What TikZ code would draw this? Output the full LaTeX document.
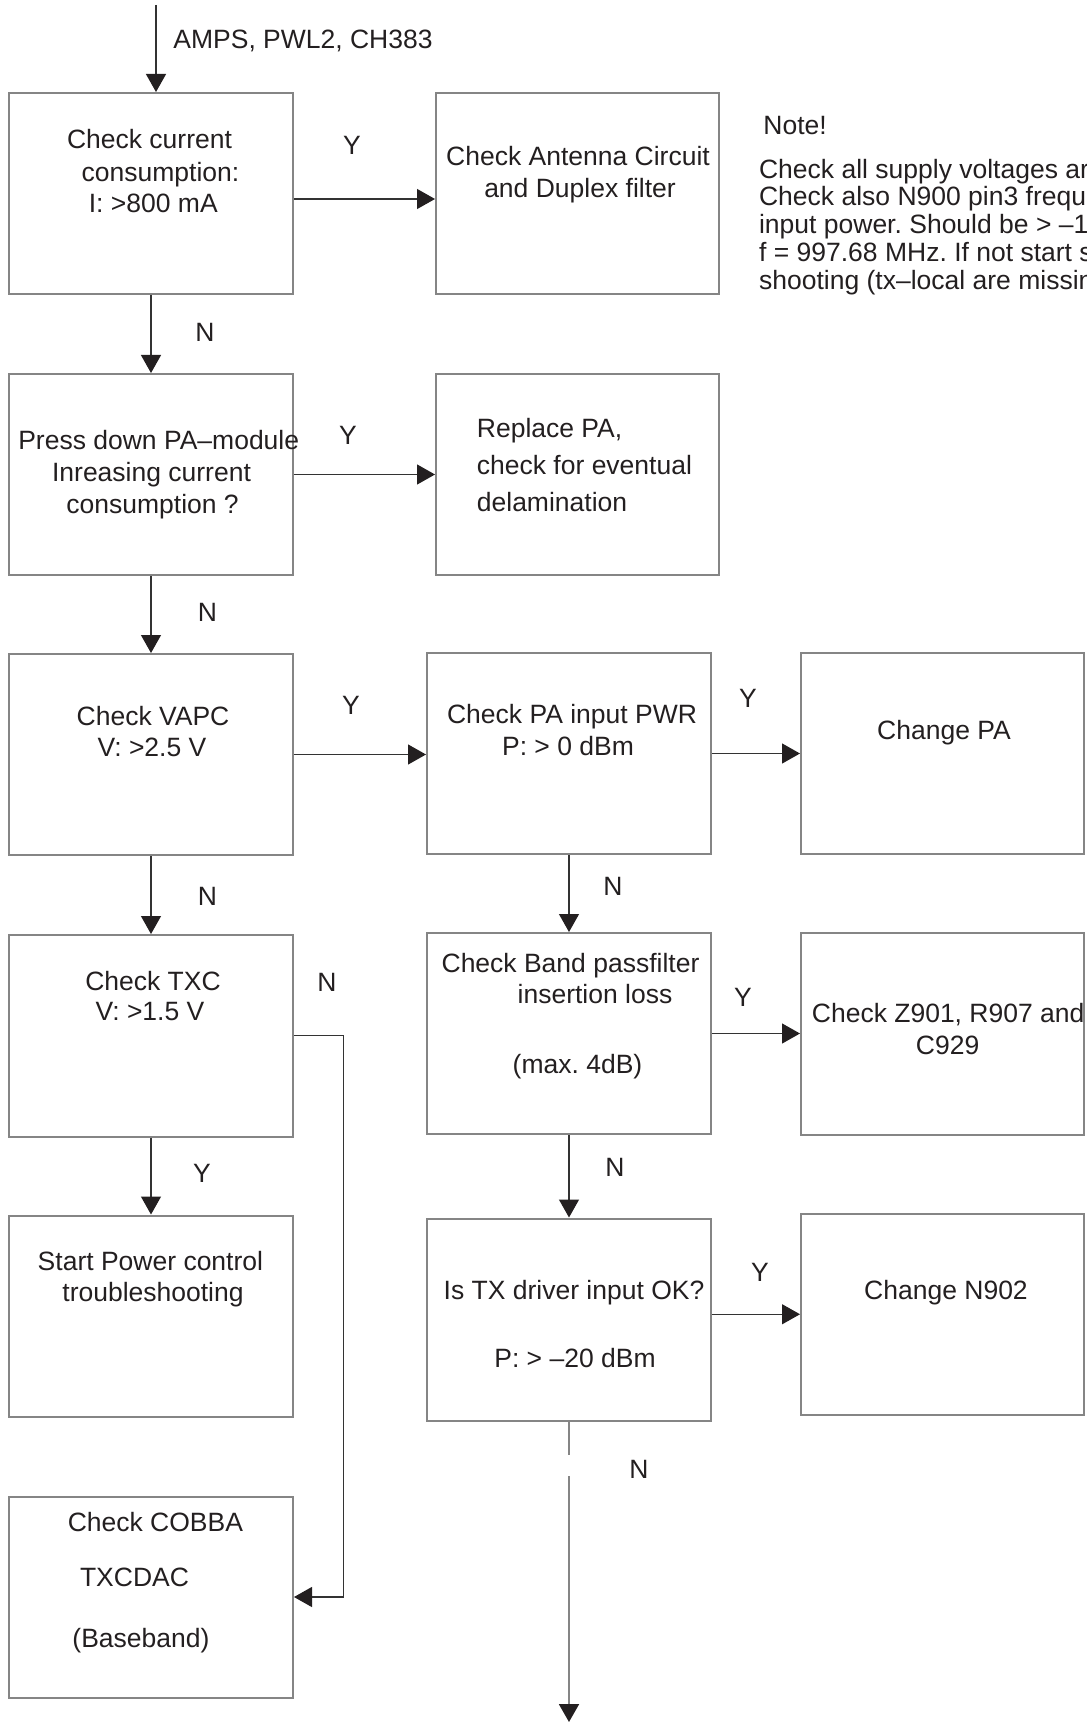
\documentclass[tikz,border=0pt]{standalone}
\usepackage{fontspec}
\setmainfont{Liberation Sans}
\usetikzlibrary{arrows.meta,fit}
\definecolor{ink}{HTML}{231F20}
\definecolor{frame}{HTML}{858585}
\definecolor{wire}{HTML}{333333}
\frenchspacing
\begin{document}
\begin{tikzpicture}[x=0.5pt,y=-0.5pt,
  box/.style={draw=frame,line width=1pt,inner sep=0pt},
  txt/.style={inner sep=0pt,anchor=base,text=ink,font=\fontsize{13.25}{16}\selectfont},
  txtl/.style={txt,anchor=base west},
  yn/.style={inner sep=0pt,text=ink,font=\fontsize{13.25}{16}\selectfont},
  wire/.style={draw=wire,line width=0.6pt},
  exitline/.style={draw=frame,line width=1pt},
  arr/.style={-{Triangle[length=9pt,width=10pt,fill=ink,color=ink]}}]
\useasboundingbox (0,0) rectangle (1086,1722);
\clip (0,0) rectangle (1086,1722);

% ---- boxes ----
\node[box,fit={(9,93) (293,294)}]        (b1)  {};
\node[box,fit={(436,93) (719,294)}]      (b2)  {};
\node[box,fit={(9,374) (293,575)}]       (b3)  {};
\node[box,fit={(436,374) (719,575)}]     (b4)  {};
\node[box,fit={(9,654) (293,855)}]       (b5)  {};
\node[box,fit={(427,653) (711,854)}]     (b6)  {};
\node[box,fit={(801,653) (1084,854)}]    (b7)  {};
\node[box,fit={(9,935) (293,1136.5)}]    (b8)  {};
\node[box,fit={(427,933) (711,1134)}]    (b9)  {};
\node[box,fit={(801,933) (1084,1135)}]   (b10) {};
\node[box,fit={(9,1215.5) (293,1416.5)}] (b11) {};
\node[box,fit={(427,1218.5) (711,1420.5)}] (b12) {};
\node[box,fit={(801,1213.5) (1084,1415)}] (b13) {};
\node[box,fit={(9,1496.5) (293,1697.5)}] (b14) {};

% ---- box texts ----
\node[txt] (t1a) at (149.5,149) {Check current};
\node[txt] (t1b) at (160.5,181.5) {consumption:};
\node[txt] (t1c) at (153.3,212.5) {I: >800 mA};

\node[txt] (t2a) at (578,165.5) {Check Antenna Circuit};
\node[txt] (t2b) at (580,197.5) {and Duplex filter};

\node[txt] (t3a) at (158.7,449.5) {Press down PA–module};
\node[txt] (t3b) at (151.5,481.5) {Inreasing current};
\node[txt] (t3c) at (152.6,513.5) {consumption ?};

\node[txtl] (t4a) at (476.5,437.5) {Replace PA,};
\node[txtl] (t4b) at (476.5,474) {check for eventual};
\node[txtl] (t4c) at (476.5,511.5) {delamination};

\node[txt] (t5a) at (153,725.5) {Check VAPC};
\node[txt] (t5b) at (152,756.5) {V: >2.5 V};

\node[txt] (t6a) at (572,723.5) {Check PA input PWR};
\node[txt] (t6b) at (568,755.5) {P: > 0 dBm};

\node[txt] (t7a) at (944,739.5) {Change PA};

\node[txt] (t8a) at (153,990.5) {Check TXC};
\node[txt] (t8b) at (150,1020.5) {V: >1.5 V};

\node[txt] (t9a) at (570.5,972.5) {Check Band passfilter};
\node[txt] (t9b) at (595,1003.5) {insertion loss};
\node[txt] (t9c) at (577.5,1073.5) {(max. 4dB)};

\node[txtl] (t10a) at (811.5,1022) {Check Z901, R907 and};
\node[txt] (t10b) at (947.6,1054) {C929};

\node[txt] (t11a) at (150.4,1270.5) {Start Power control};
\node[txt] (t11b) at (153,1301.5) {troubleshooting};

\node[txt] (t12a) at (574,1299.5) {Is TX driver input OK?};
\node[txt] (t12b) at (575,1367.5) {P: > –20 dBm};

\node[txt] (t13a) at (946,1299.5) {Change N902};

\node[txt] (t14a) at (155.4,1531.5) {Check COBBA};
\node[txt] (t14b) at (134.5,1586.5) {TXCDAC};
\node[txt] (t14c) at (141,1647.5) {(Baseband)};

% ---- note ----
\node[txtl] (note)  at (763,134.5) {Note!};
\node[txtl] (nl1) at (758.7,178.5) {Check all supply voltages ar};
\node[txtl] (nl2) at (758.7,206)   {Check also N900 pin3 frequ};
\node[txtl] (nl3) at (758.7,233.5) {input power. Should be > –1};
\node[txtl] (nl4) at (758.7,262)   {f = 997.68 MHz. If not start s};
\node[txtl] (nl5) at (758.7,289.5) {shooting (tx–local are missin};

% ---- entry ----
\coordinate (entry) at (156,5);
\node[txtl] (mode) at (173,49) {AMPS, PWL2, CH383};
\draw[wire,arr] (entry) -- (entry |- b1.north);

% ---- connectors ----
\coordinate (row1) at (0,199);
\draw[wire,arr] (b1.east |- row1) -- (b2.west |- row1);
\draw[wire,arr] (b1.south) -- (b3.north);
\draw[wire,arr] (b3.east) -- (b3.east -| b4.west);
\draw[wire,arr] (b3.south) -- (b5.north);
\draw[wire,arr] (b5.east) -- (b5.east -| b6.west);
\draw[wire,arr] (b6.east) -- (b6.east -| b7.west);
\draw[wire,arr] (b5.south) -- (b8.north);
\draw[wire,arr] (b6.south) -- (b9.north);
\draw[wire,arr] (b9.east) -- (b9.east -| b10.west);
\draw[wire,arr] (b8.south) -- (b11.north);
\draw[wire,arr] (b9.south) -- (b12.north);
\draw[wire,arr] (b12.east |- b13.west) -- (b13.west);
\coordinate (elbow) at (343.5,0);
\draw[wire,arr] (b8.east) -- (b8.east -| elbow) -- (elbow |- b14.east) -- (b14.east);
\coordinate (gapTop) at (569,1455);
\coordinate (gapBot) at (569,1476);
\coordinate (exitEnd) at (569,1722);
\draw[exitline] (b12.south) -- (gapTop);
\draw[exitline,arr] (gapBot) -- (exitEnd);

% ---- Y / N labels ----
\node[yn] (y1) at (352,145)   {Y};
\node[yn] (n1) at (205,332)   {N};
\node[yn] (y2) at (348,435)   {Y};
\node[yn] (n2) at (207.5,612) {N};
\node[yn] (y3) at (351,705)   {Y};
\node[yn] (y4) at (748,698)   {Y};
\node[yn] (n3) at (207.5,896) {N};
\node[yn] (n4) at (613,886)   {N};
\node[yn] (n5) at (327,982)   {N};
\node[yn] (y5) at (743,997)   {Y};
\node[yn] (y6) at (202,1173)  {Y};
\node[yn] (n6) at (615,1167)  {N};
\node[yn] (y7) at (760,1272)  {Y};
\node[yn] (n7) at (639,1469)  {N};
\end{tikzpicture}
\end{document}
